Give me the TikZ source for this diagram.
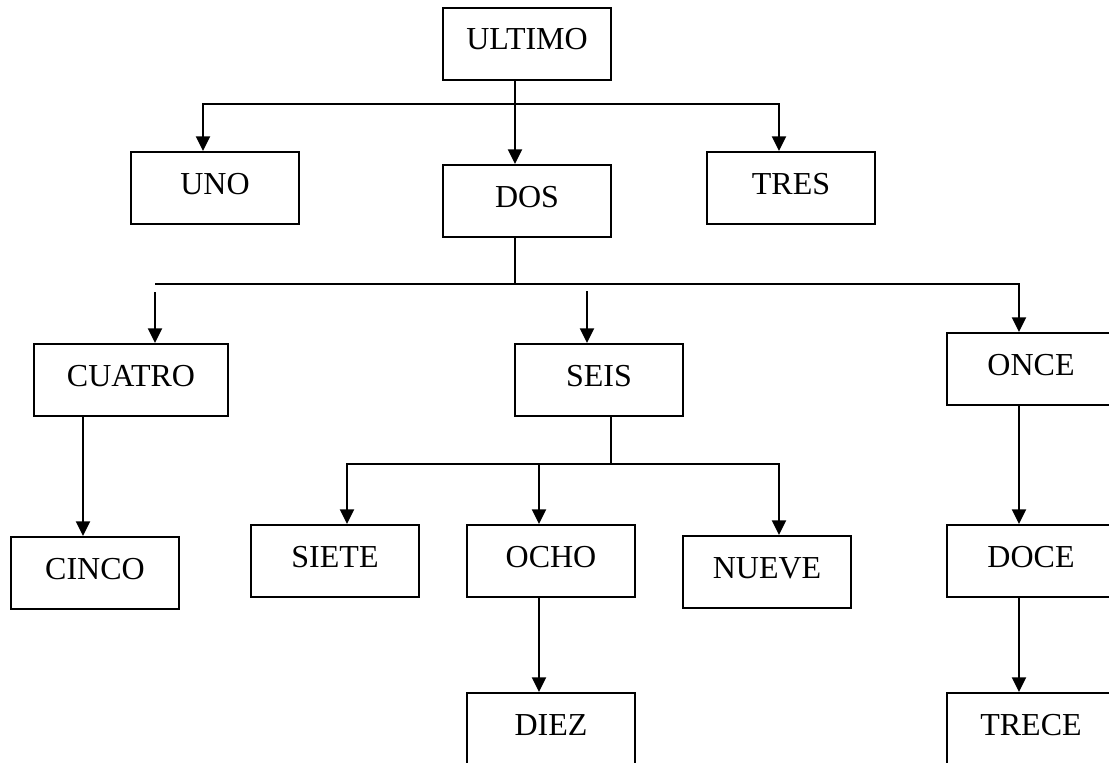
\documentclass[tikz,border=0pt]{standalone}
\usepackage{fontspec}
\setmainfont{Liberation Serif}
\usetikzlibrary{arrows.meta}
\begin{document}
\begin{tikzpicture}[x=0.75pt,y=-0.75pt,
    box/.style={draw, line width=1.5pt, minimum width=126pt, minimum height=54pt,
      inner sep=0pt, font=\fontsize{24}{28}\selectfont, text height=16pt, text depth=7pt},
    arr/.style={line width=1.5pt, -{Triangle[length=11pt,width=10.5pt]}},
    arrs/.style={line width=1.5pt, {Triangle[length=11pt,width=10.5pt]}-{Triangle[length=11pt,width=10.5pt]}},
    bus/.style={line width=1.5pt}]
    \useasboundingbox (0,0) rectangle (1109,763);
    \clip (0,0) rectangle (1109,763);
    \node[box] (A0_0) at (527,44) {ULTIMO};
    \node[box] (A1_0) at (215,188) {UNO};
    \node[box] (A1_1) at (527,201) {DOS};
    \node[box] (A1_2) at (791,188) {TRES};
    \node[box, minimum width=145.5pt] (A2_0) at (131,380) {CUATRO};
    \node[box] (A2_1) at (599,380) {SEIS};
    \node[box] (A2_2) at (1031,369) {ONCE};
    \node[box] (A3_0) at (95,573) {CINCO};
    \node[box] (A3_1) at (335,561) {SIETE};
    \node[box] (A3_2) at (551,561) {OCHO};
    \node[box] (A3_3) at (767,572) {NUEVE};
    \node[box] (A3_4) at (1031,561) {DOCE};
    \node[box] (A4_0) at (551,729) {DIEZ};
    \node[box] (A4_1) at (1031,729) {TRECE};
    % bus ends
    \coordinate (T0) at (203,104);
    \coordinate (T1) at (779,104);
    \coordinate (M0) at (155,284);
    \coordinate (M1) at (1019,284);
    \coordinate (S0) at (587,291);
    \coordinate (L0) at (347,464);
    \coordinate (L1) at (779,464);
    % ULTIMO
    \draw[arrs] (T0 |- A1_0.north) -- (T0) -- (T1) -- (T1 |- A1_2.north);
    \path ([xshift=-9pt]A0_0.south) edge [arr] ([xshift=-9pt]A1_1.north);
    % DOS
    \draw[bus] ([xshift=-9pt]A1_1.south) -- ([xshift=-9pt]A1_1.south |- M0);
    \draw[arr] (M0) -- (M1) -- (M1 |- A2_2.north);
    \draw[arr] ([yshift=-6pt]M0) -- (M0 |- A2_0.north);
    \draw[arr] (S0) -- (S0 |- A2_1.north);
    % SEIS
    \draw[bus] ([xshift=9pt]A2_1.south) -- ([xshift=9pt]A2_1.south |- L0);
    \draw[arrs] (L0 |- A3_1.north) -- (L0) -- (L1) -- (L1 |- A3_3.north);
    \draw[arr] ([xshift=-9pt]A3_2.north |- L0) -- ([xshift=-9pt]A3_2.north);
    % columns
    \draw[arr] ([xshift=-9pt]A3_0.north |- A2_0.south) -- ([xshift=-9pt]A3_0.north);
    \path ([xshift=-9pt]A2_2.south) edge [arr] ([xshift=-9pt]A3_4.north);
    \path ([xshift=-9pt]A3_2.south) edge [arr] ([xshift=-9pt]A4_0.north);
    \path ([xshift=-9pt]A3_4.south) edge [arr] ([xshift=-9pt]A4_1.north);
\end{tikzpicture}
\end{document}
